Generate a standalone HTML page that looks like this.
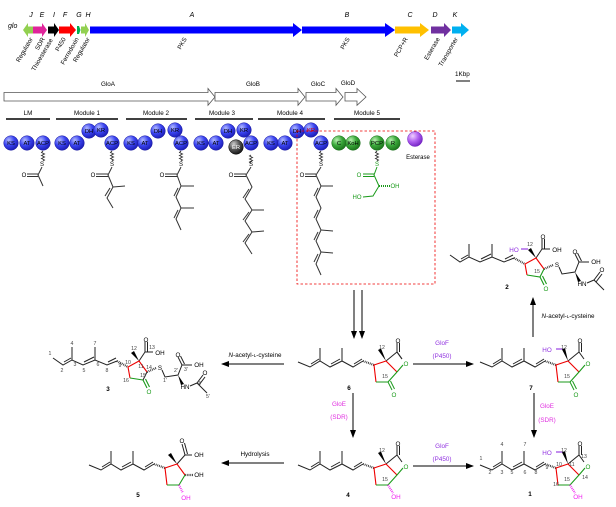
<!DOCTYPE html>
<html><head><meta charset="utf-8"><style>
html,body{margin:0;padding:0;background:#fff}
svg{display:block;font-family:"Liberation Sans",Arial,sans-serif}
</style></head><body>
<svg width="616" height="507" viewBox="0 0 616 507" xmlns="http://www.w3.org/2000/svg">
<defs>
<radialGradient id="gb" cx="0.35" cy="0.3" r="0.75"><stop offset="0" stop-color="#b0b8ff"/><stop offset="0.5" stop-color="#3a44f0"/><stop offset="1" stop-color="#1a1ab0"/></radialGradient>
<radialGradient id="gg" cx="0.35" cy="0.3" r="0.75"><stop offset="0" stop-color="#b8f0b0"/><stop offset="0.5" stop-color="#3aa83a"/><stop offset="1" stop-color="#1a701a"/></radialGradient>
<radialGradient id="gk" cx="0.35" cy="0.3" r="0.75"><stop offset="0" stop-color="#cccccc"/><stop offset="0.5" stop-color="#555"/><stop offset="1" stop-color="#111"/></radialGradient>
<radialGradient id="gp" cx="0.35" cy="0.3" r="0.75"><stop offset="0" stop-color="#f0d0ff"/><stop offset="0.5" stop-color="#b060f0"/><stop offset="1" stop-color="#7020c0"/></radialGradient>
<marker id="ah" markerWidth="8" markerHeight="6" refX="7" refY="3" orient="auto" markerUnits="userSpaceOnUse"><path d="M0,0 L8,3 L0,6 Z" fill="#000"/></marker>
</defs>

<!-- gene cluster -->
<text x="8" y="28" font-size="7" font-style="italic">glo</text>
<g stroke="none">
<polygon points="33,26.5 28,26.5 28,23 23,30 28,37 28,33.5 33,33.5" fill="#92d050"/>
<polygon points="33,26.5 42,26.5 42,23 47,30 42,37 42,33.5 33,33.5" fill="#e0249b"/>
<polygon points="48,26.5 54,26.5 54,23 59,30 54,37 54,33.5 48,33.5" fill="#000"/>
<polygon points="59,26.5 70,26.5 70,23 76,30 70,37 70,33.5 59,33.5" fill="#ff0000"/>
<polygon points="77,26 79,26 80.5,30 79,34 77,34" fill="#00b050"/>
<polygon points="81,26.5 85,26.5 85,23 89,30 85,37 85,33.5 81,33.5" fill="#92d050"/>
<polygon points="90,26.5 293,26.5 293,23 302,30 293,37 293,33.5 90,33.5" fill="#0000ff"/>
<polygon points="302,26.5 385,26.5 385,23 395,30 385,37 385,33.5 302,33.5" fill="#0000ff"/>
<polygon points="395,26.5 420,26.5 420,23 429,30 420,37 420,33.5 395,33.5" fill="#ffc000"/>
<polygon points="431,26.5 444,26.5 444,23 451,30 444,37 444,33.5 431,33.5" fill="#7030a0"/>
<polygon points="452,26.5 461,26.5 461,23 469,30 461,37 461,33.5 452,33.5" fill="#00b0f0"/>
</g>
<g font-size="7" font-style="italic" text-anchor="middle">
<text x="31" y="17">J</text><text x="42" y="17">E</text><text x="54" y="17">I</text><text x="65" y="17">F</text><text x="79" y="17">G</text><text x="88" y="17">H</text><text x="192" y="17">A</text><text x="347" y="17">B</text><text x="410" y="17">C</text><text x="435" y="17">D</text><text x="455" y="17">K</text>
</g>
<g font-size="6.3" text-anchor="end">
<text transform="translate(33,39) rotate(-60)">Regulator</text>
<text transform="translate(45,39) rotate(-60)">SDR</text>
<text transform="translate(53,40) rotate(-60)">Thioesterase</text>
<text transform="translate(66,39) rotate(-60)">P450</text>
<text transform="translate(79,39) rotate(-60)">Ferredoxin</text>
<text transform="translate(90,39) rotate(-60)">Regulator</text>
<text transform="translate(187,39) rotate(-60)">PKS</text>
<text transform="translate(350,39) rotate(-60)">PKS</text>
<text transform="translate(408,39) rotate(-60)">PCP+R</text>
<text transform="translate(440,39) rotate(-60)">Esterase</text>
<text transform="translate(458,39) rotate(-60)">Transporter</text>
</g>
<text x="455" y="76" font-size="6.3">1Kbp</text>
<line x1="456" y1="81" x2="470" y2="81" stroke="#000" stroke-width="1"/>

<!-- outline arrows -->
<g fill="#fff" stroke="#555" stroke-width="0.8">
<polygon points="4,92.5 208,92.5 208,88.5 215,97 208,105.3 208,101 4,101"/>
<polygon points="215,92.5 298,92.5 298,88.5 305,97 298,105.3 298,101 215,101"/>
<polygon points="306,92.5 336,92.5 336,88.5 343,97 336,105.3 336,101 306,101"/>
<polygon points="345,92.5 357,92.5 357,88.5 366,97 357,105.3 357,101 345,101"/>
</g>
<g font-size="6.3" text-anchor="middle">
<text x="108" y="86">GloA</text><text x="253" y="86">GloB</text><text x="318" y="86">GloC</text><text x="348" y="85">GloD</text>
</g>

<!-- modules -->
<g stroke="#000" stroke-width="1.5">
<line x1="6" y1="119" x2="50" y2="119"/><line x1="56" y1="119" x2="118" y2="119"/><line x1="126" y1="119" x2="187" y2="119"/><line x1="195" y1="119" x2="253" y2="119"/><line x1="258" y1="119" x2="325" y2="119"/><line x1="334" y1="119" x2="400" y2="119"/>
</g>
<g font-size="6.3" text-anchor="middle">
<text x="28" y="115">LM</text><text x="87" y="115">Module 1</text><text x="156" y="115">Module 2</text><text x="222" y="115">Module 3</text><text x="290" y="115">Module 4</text><text x="367" y="115">Module 5</text>
</g>

<!-- domain circles -->
<g stroke="#1a1aa0" stroke-width="0.5" fill="url(#gb)">
<circle cx="11" cy="143" r="7.3"/><circle cx="27" cy="143" r="7.3"/><circle cx="43" cy="143" r="7.3"/>
<circle cx="62" cy="143" r="7.3"/><circle cx="77" cy="143" r="7.3"/><circle cx="89" cy="131" r="7.3"/><circle cx="101" cy="130" r="7.3"/><circle cx="112" cy="143" r="7.3"/>
<circle cx="131" cy="143" r="7.3"/><circle cx="145" cy="143" r="7.3"/><circle cx="158" cy="131" r="7.3"/><circle cx="175" cy="130" r="7.3"/><circle cx="181" cy="143" r="7.3"/>
<circle cx="201" cy="143" r="7.3"/><circle cx="216" cy="143" r="7.3"/><circle cx="228" cy="131" r="7.3"/><circle cx="244" cy="130" r="7.3"/><circle cx="251" cy="143" r="7.3"/>
<circle cx="271" cy="143" r="7.3"/><circle cx="285" cy="143" r="7.3"/><circle cx="297" cy="131" r="7.3"/><circle cx="311" cy="130" r="7.3"/><circle cx="321" cy="143" r="7.3"/>
</g>
<circle cx="236" cy="147" r="7.3" fill="url(#gk)" stroke="#000" stroke-width="0.5"/>
<g stroke="#1a701a" stroke-width="0.5" fill="url(#gg)">
<circle cx="339" cy="143" r="7.3"/><circle cx="353" cy="143" r="7.3"/><circle cx="377" cy="143" r="7.3"/><circle cx="393" cy="143" r="7.3"/>
</g>
<circle cx="415" cy="139" r="7.5" fill="url(#gp)" stroke="#7020c0" stroke-width="0.5"/>
<g font-size="5.8" text-anchor="middle">
<text x="11" y="145">KS</text><text x="27" y="145">AT</text><text x="43" y="145">ACP</text>
<text x="62" y="145">KS</text><text x="77" y="145">AT</text><text x="89" y="133">DH</text><text x="101" y="132">KR</text><text x="112" y="145">ACP</text>
<text x="131" y="145">KS</text><text x="145" y="145">AT</text><text x="158" y="133">DH</text><text x="175" y="132">KR</text><text x="181" y="145">ACP</text>
<text x="201" y="145">KS</text><text x="216" y="145">AT</text><text x="228" y="133">DH</text><text x="244" y="132">KR</text><text x="251" y="145">ACP</text>
<text x="236" y="149" fill="#fff">ER</text>
<text x="271" y="145">KS</text><text x="285" y="145">AT</text><text x="297" y="133">DH</text><text x="311" y="132" fill="#c00">KR</text><text x="321" y="145">ACP</text>
<text x="339" y="145">C</text><text x="353" y="145">KoH</text><text x="377" y="145">PCP</text><text x="393" y="145">R</text>
</g>
<text x="418" y="159" font-size="6" text-anchor="middle">Esterase</text>
<rect x="297" y="131" width="138" height="153" fill="none" stroke="#e00" stroke-width="0.8" stroke-dasharray="2.5,2"/>

<!-- module chains -->
<g stroke="#333" stroke-width="0.9" fill="none">
<path d="M43,151 l-1.5,1.5 l3,1.5 l-3,1.5 l3,1.5 l-3,1.5 l3,1.5 l-1.5,1"/>
<path d="M112,151 l-1.5,1.5 l3,1.5 l-3,1.5 l3,1.5 l-3,1.5 l3,1.5 l-1.5,1"/>
<path d="M181,151 l-1.5,1.5 l3,1.5 l-3,1.5 l3,1.5 l-3,1.5 l3,1.5 l-1.5,1"/>
<path d="M251,155 l-1.5,1 l3,1.5 l-3,1.5 l3,1.5 l-3,1.5 l1.5,1"/>
<path d="M321,151 l-1.5,1.5 l3,1.5 l-3,1.5 l3,1.5 l-3,1.5 l3,1.5 l-1.5,1"/>
</g>
<g font-size="6" text-anchor="middle">
<text x="42" y="166">S</text><text x="112" y="166">S</text><text x="181" y="166">S</text><text x="251" y="166">S</text><text x="321" y="166">S</text>
<text x="24" y="177">O</text><text x="93" y="177">O</text><text x="162" y="177">O</text><text x="231" y="177">O</text><text x="302" y="177">O</text>
</g>
<g stroke="#333" stroke-width="1" fill="none">
<!-- LM -->
<polyline points="42,167 38,175 43,186"/><line x1="27" y1="174" x2="38" y2="174"/><line x1="27" y1="176.5" x2="38" y2="176.5"/>
<!-- M1 -->
<polyline points="112,167 108,175 113,187 107,198 113,208"/><line x1="113" y1="187" x2="125" y2="186"/><line x1="96" y1="174" x2="108" y2="174"/><line x1="96" y1="176.5" x2="108" y2="176.5"/><line x1="110" y1="188" x2="105" y2="196"/>
<!-- M2 -->
<polyline points="181,167 177,175 181,186 176,197 181,208 176,219 181,230"/><line x1="181" y1="186" x2="194" y2="186"/><line x1="181" y1="208" x2="194" y2="208"/><line x1="165" y1="174" x2="177" y2="174"/><line x1="165" y1="176.5" x2="177" y2="176.5"/><line x1="178" y1="188" x2="174" y2="196"/><line x1="178" y1="210" x2="174" y2="218"/>
<!-- M3 -->
<polyline points="251,167 246,175 252,187 245,199 252,210 245,221 252,232 245,243 252,254"/><line x1="252" y1="210" x2="264" y2="210"/><line x1="252" y1="232" x2="264" y2="231"/><line x1="234" y1="174" x2="246" y2="174"/><line x1="234" y1="176.5" x2="246" y2="176.5"/><line x1="249" y1="189" x2="243" y2="198"/><line x1="249" y1="212" x2="243" y2="220"/><line x1="249" y1="234" x2="243" y2="242"/>
<!-- M4 -->
<polyline points="321,167 316,175 321,186 316,197 321,208 316,219 321,230 316,241 321,252 316,264 321,275"/><line x1="321" y1="186" x2="333" y2="186"/><line x1="321" y1="230" x2="333" y2="231"/><line x1="321" y1="252" x2="333" y2="253"/><line x1="305" y1="174" x2="316" y2="174"/><line x1="305" y1="176.5" x2="316" y2="176.5"/><line x1="318" y1="188" x2="314" y2="196"/><line x1="318" y1="210" x2="314" y2="218"/><line x1="318" y1="232" x2="314" y2="240"/><line x1="318" y1="254" x2="314" y2="262"/>
</g>
<!-- PCP green chain -->
<path d="M377,151 l-1.5,1.5 l3,1.5 l-3,1.5 l3,1.5 l-3,1.5 l3,1.5 l-1.5,1" stroke="#333" stroke-width="0.9" fill="none"/>
<g stroke="#1a9a1a" stroke-width="1" fill="none">
<polyline points="377,167 374,175 379,186 373,196 363,197"/><line x1="363" y1="174" x2="374" y2="174"/><line x1="363" y1="176.5" x2="374" y2="176.5"/>
<line x1="379" y1="186" x2="390" y2="186" stroke-dasharray="1,1" stroke-width="2"/>
</g>
<g font-size="6" fill="#1a9a1a" text-anchor="middle"><text x="377" y="166">S</text><text x="359" y="177">O</text><text x="395" y="188">OH</text><text x="357" y="199">HO</text></g>

<!-- down arrows -->
<g stroke="#000" stroke-width="1"><line x1="354" y1="290" x2="354" y2="338" marker-end="url(#ah)"/><line x1="362" y1="290" x2="362" y2="338" marker-end="url(#ah)"/></g>

<!-- reaction arrows -->
<g stroke="#000" stroke-width="1">
<line x1="413" y1="364" x2="473" y2="364" marker-end="url(#ah)"/>
<line x1="413" y1="466" x2="473" y2="466" marker-end="url(#ah)"/>
<line x1="353" y1="393" x2="353" y2="437" marker-end="url(#ah)"/>
<line x1="534" y1="393" x2="534" y2="437" marker-end="url(#ah)"/>
<line x1="533" y1="337" x2="533" y2="298" marker-end="url(#ah)"/>
<line x1="284" y1="364" x2="222" y2="364" marker-end="url(#ah)"/>
<line x1="284" y1="463" x2="222" y2="463" marker-end="url(#ah)"/>
</g>
<g font-size="6.3" text-anchor="middle">
<text x="442" y="345" fill="#9030e0">GloF</text><text x="442" y="358" fill="#9030e0">(P450)</text>
<text x="442" y="448" fill="#9030e0">GloF</text><text x="442" y="461" fill="#9030e0">(P450)</text>
<text x="339" y="406" fill="#e030e0">GloE</text><text x="339" y="419" fill="#e030e0">(SDR)</text>
<text x="547" y="408" fill="#e030e0">GloE</text><text x="547" y="422" fill="#e030e0">(SDR)</text>
<text x="255" y="357"><tspan font-style="italic">N</tspan>-acetyl-<tspan font-size="4.5">L</tspan>-cysteine</text>
<text x="568" y="318"><tspan font-style="italic">N</tspan>-acetyl-<tspan font-size="4.5">L</tspan>-cysteine</text>
<text x="255" y="456">Hydrolysis</text>
</g>

<!-- compound cores: 6 (0,0), 7 (+182,0), 4 (0,+103), 1 (+182,+103) -->
<g id="c6">
<g stroke="#222" stroke-width="1" fill="none">
<polyline points="298,362 310,367 320,361 330,367 342,361 353,367 363,361"/>
<line x1="311" y1="364" x2="319" y2="359"/><line x1="331" y1="364" x2="340" y2="359"/><line x1="354" y1="364" x2="362" y2="359"/>
<line x1="320" y1="361" x2="320" y2="348"/><line x1="342" y1="361" x2="342" y2="348"/>
<line x1="363" y1="361" x2="374" y2="365" stroke-dasharray="0.8,1" stroke-width="2.2"/>
<line x1="386" y1="361" x2="397" y2="352"/><line x1="397" y1="352" x2="397" y2="343"/><line x1="399.5" y1="352" x2="399.5" y2="343"/>
</g>
<g stroke="#e00" stroke-width="1.1" fill="none"><polyline points="376,382 374,365 386,361 397,372"/></g>
<g stroke="#1a9a1a" stroke-width="1.1" fill="none"><polyline points="376,382 388,382 397,372"/><polyline points="397,372 403,365"/><line x1="397" y1="352" x2="402" y2="359" stroke="#222"/></g>
</g>
<g id="c6b" transform="translate(182,0)">
<g stroke="#222" stroke-width="1" fill="none">
<polyline points="298,362 310,367 320,361 330,367 342,361 353,367 363,361"/>
<line x1="311" y1="364" x2="319" y2="359"/><line x1="331" y1="364" x2="340" y2="359"/><line x1="354" y1="364" x2="362" y2="359"/>
<line x1="320" y1="361" x2="320" y2="348"/><line x1="342" y1="361" x2="342" y2="348"/>
<line x1="363" y1="361" x2="374" y2="365" stroke-dasharray="0.8,1" stroke-width="2.2"/>
<line x1="386" y1="361" x2="397" y2="352"/><line x1="397" y1="352" x2="397" y2="343"/><line x1="399.5" y1="352" x2="399.5" y2="343"/><line x1="397" y1="352" x2="402" y2="359"/>
</g>
<g stroke="#e00" stroke-width="1.1" fill="none"><polyline points="376,382 374,365 386,361 397,372"/></g>
<g stroke="#1a9a1a" stroke-width="1.1" fill="none"><polyline points="376,382 388,382 397,372 403,365"/></g>
</g>
<g transform="translate(0,103)">
<g stroke="#222" stroke-width="1" fill="none">
<polyline points="298,362 310,367 320,361 330,367 342,361 353,367 363,361"/>
<line x1="311" y1="364" x2="319" y2="359"/><line x1="331" y1="364" x2="340" y2="359"/><line x1="354" y1="364" x2="362" y2="359"/>
<line x1="320" y1="361" x2="320" y2="348"/><line x1="342" y1="361" x2="342" y2="348"/>
<line x1="363" y1="361" x2="374" y2="365" stroke-dasharray="0.8,1" stroke-width="2.2"/>
<line x1="386" y1="361" x2="397" y2="352"/><line x1="397" y1="352" x2="397" y2="343"/><line x1="399.5" y1="352" x2="399.5" y2="343"/><line x1="397" y1="352" x2="402" y2="359"/>
</g>
<g stroke="#e00" stroke-width="1.1" fill="none"><polyline points="376,382 374,365 386,361 397,372"/></g>
<g stroke="#1a9a1a" stroke-width="1.1" fill="none"><polyline points="376,382 388,382 397,372 403,365"/></g>
</g>
<g transform="translate(182,103)">
<g stroke="#222" stroke-width="1" fill="none">
<polyline points="298,362 310,367 320,361 330,367 342,361 353,367 363,361"/>
<line x1="311" y1="364" x2="319" y2="359"/><line x1="331" y1="364" x2="340" y2="359"/><line x1="354" y1="364" x2="362" y2="359"/>
<line x1="320" y1="361" x2="320" y2="348"/><line x1="342" y1="361" x2="342" y2="348"/>
<line x1="363" y1="361" x2="374" y2="365" stroke-dasharray="0.8,1" stroke-width="2.2"/>
<line x1="386" y1="361" x2="397" y2="352"/><line x1="397" y1="352" x2="397" y2="343"/><line x1="399.5" y1="352" x2="399.5" y2="343"/><line x1="397" y1="352" x2="402" y2="359"/>
</g>
<g stroke="#e00" stroke-width="1.1" fill="none"><polyline points="376,382 374,365 386,361 397,372"/></g>
<g stroke="#1a9a1a" stroke-width="1.1" fill="none"><polyline points="376,382 388,382 397,372 403,365"/></g>
</g>
<!-- methyl wedges (6,4) -->
<polygon points="386,361 378,350 381,348.5" fill="#000"/>
<polygon points="386,464 378,453 381,451.5" fill="#000"/>
<!-- CH2OH (7,1) -->
<g stroke="#9030e0" stroke-width="1.1"><line x1="556" y1="349" x2="563" y2="349"/><line x1="556" y1="452" x2="563" y2="452"/></g>
<polygon points="568,361 562,349.5 565,348" fill="#000"/>
<polygon points="568,464 562,452.5 565,451" fill="#000"/>
<!-- C=O (6,7) green -->
<g stroke="#1a9a1a" stroke-width="1"><line x1="388" y1="382" x2="392" y2="390"/><line x1="390.5" y1="381" x2="394.5" y2="389"/><line x1="570" y1="382" x2="574" y2="390"/><line x1="572.5" y1="381" x2="576.5" y2="389"/></g>
<!-- OH hashed (4,1) -->
<g stroke="#f020f0" stroke-width="2.2" stroke-dasharray="0.8,1"><line x1="388" y1="485" x2="393" y2="493"/><line x1="570" y1="485" x2="575" y2="493"/></g>
<g font-size="6.3" text-anchor="middle">
<text x="398" y="343">O</text><text x="580" y="343">O</text><text x="398" y="446">O</text><text x="580" y="446">O</text>
<text x="406" y="366" fill="#1a9a1a">O</text><text x="588" y="366" fill="#1a9a1a">O</text><text x="406" y="469" fill="#1a9a1a">O</text><text x="588" y="469" fill="#1a9a1a">O</text>
<text x="394" y="397" fill="#1a9a1a">O</text><text x="576" y="397" fill="#1a9a1a">O</text>
<text x="396" y="499" fill="#f020f0">OH</text><text x="578" y="499" fill="#f020f0">OH</text>
<text x="547" y="352" fill="#9030e0">HO</text><text x="547" y="455" fill="#9030e0">HO</text>
<text x="349" y="390" font-weight="bold">6</text><text x="531" y="390" font-weight="bold">7</text><text x="348" y="497" font-weight="bold">4</text><text x="530" y="496" font-weight="bold">1</text>
</g>
<g font-size="5.2" fill="#444" text-anchor="middle">
<text x="382" y="349">12</text><text x="385" y="378">15</text><text x="564" y="349">12</text><text x="567" y="378">15</text><text x="382" y="452">12</text><text x="385" y="481">15</text>
<text x="564" y="452">12</text><text x="567" y="481">15</text><text x="584" y="458">13</text><text x="572" y="466">11</text><text x="559" y="466">10</text><text x="585" y="479">14</text><text x="556" y="486">16</text>
<text x="481" y="460">1</text><text x="490" y="474">2</text><text x="502" y="474">3</text><text x="502" y="446">4</text><text x="512" y="474">5</text><text x="525" y="474">6</text><text x="525" y="446">7</text><text x="536" y="474">8</text><text x="547" y="469">9</text>
</g>

<!-- compound 3 -->
<g stroke="#222" stroke-width="1" fill="none">
<polyline points="53,358 63,365 72,360 83,365 95,360 107,365 117,361"/>
<line x1="64" y1="362" x2="71" y2="358"/><line x1="84" y1="362" x2="94" y2="357"/><line x1="108" y1="362" x2="116" y2="358"/>
<line x1="72" y1="360" x2="72" y2="347"/><line x1="95" y1="360" x2="95" y2="347"/>
<line x1="117" y1="361" x2="128" y2="367" stroke-dasharray="0.8,1" stroke-width="2.2"/>
<line x1="139" y1="361" x2="145" y2="352"/><line x1="145" y1="352" x2="145" y2="342"/><line x1="147.5" y1="352" x2="147.5" y2="342"/><line x1="145" y1="352" x2="153" y2="352"/>
<line x1="147" y1="372" x2="156" y2="368" stroke-dasharray="0.8,1" stroke-width="2.2"/>
<polyline points="162,370 165,377 178,375 182,365 192,365"/><line x1="182" y1="365" x2="178" y2="357"/><line x1="184.5" y1="364" x2="180.5" y2="356"/>
<polyline points="190,386 197,383 207,393"/><line x1="197" y1="383" x2="203" y2="375"/><line x1="199" y1="385" x2="205" y2="377"/>
</g>
<polygon points="178,375 181,385 184,384" fill="#000"/>
<polygon points="139,361 131,353 134,351" fill="#000"/>
<g stroke="#e00" stroke-width="1.1" fill="none"><polyline points="130,378 128,367 139,361 147,372"/></g>
<g stroke="#1a9a1a" stroke-width="1.1" fill="none"><polyline points="130,378 143,380"/><line x1="143" y1="380" x2="147" y2="388"/><line x1="145.5" y1="379" x2="149.5" y2="387"/></g>
<line x1="143" y1="380" x2="147" y2="372" stroke="#222" stroke-width="1"/>
<g font-size="6.3" text-anchor="middle">
<text x="146" y="342">O</text><text x="160" y="355">OH</text><text x="160" y="370">S</text><text x="178" y="357">O</text><text x="199" y="367">OH</text><text x="185" y="389">HN</text><text x="205" y="375">O</text><text x="149" y="394" fill="#1a9a1a">O</text>
<text x="108" y="391" font-weight="bold">3</text>
</g>
<g font-size="5.2" fill="#444" text-anchor="middle">
<text x="50" y="355">1</text><text x="62" y="372">2</text><text x="75" y="366">3</text><text x="72" y="345">4</text><text x="84" y="372">5</text><text x="98" y="366">6</text><text x="95" y="345">7</text><text x="107" y="372">8</text><text x="120" y="367">9</text><text x="128" y="364">10</text><text x="141" y="368">11</text><text x="134" y="350">12</text><text x="152" y="349">13</text><text x="149" y="369">14</text><text x="143" y="377">15</text><text x="126" y="382">16</text>
<text x="165" y="382">1'</text><text x="176" y="372">2'</text><text x="186" y="371">3'</text><text x="200" y="385">4'</text><text x="208" y="398">5'</text>
</g>

<!-- compound 2 (shift of 3 by 397,-103) -->
<g transform="translate(397,-103)">
<g stroke="#222" stroke-width="1" fill="none">
<polyline points="53,358 63,365 72,360 83,365 95,360 107,365 117,361"/>
<line x1="64" y1="362" x2="71" y2="358"/><line x1="84" y1="362" x2="94" y2="357"/><line x1="108" y1="362" x2="116" y2="358"/>
<line x1="72" y1="360" x2="72" y2="347"/><line x1="95" y1="360" x2="95" y2="347"/>
<line x1="117" y1="361" x2="128" y2="367" stroke-dasharray="0.8,1" stroke-width="2.2"/>
<line x1="139" y1="361" x2="145" y2="352"/><line x1="145" y1="352" x2="145" y2="342"/><line x1="147.5" y1="352" x2="147.5" y2="342"/><line x1="145" y1="352" x2="153" y2="352"/>
<line x1="147" y1="372" x2="156" y2="368" stroke-dasharray="0.8,1" stroke-width="2.2"/>
<polyline points="162,370 165,377 178,375 182,365 192,365"/><line x1="182" y1="365" x2="178" y2="357"/><line x1="184.5" y1="364" x2="180.5" y2="356"/>
<polyline points="190,386 197,383 207,393"/><line x1="197" y1="383" x2="203" y2="375"/><line x1="199" y1="385" x2="205" y2="377"/>
</g>
<polygon points="178,375 181,385 184,384" fill="#000"/>
<polygon points="139,361 131,353 134,351" fill="#000"/>
<line x1="131" y1="352" x2="124" y2="352" stroke="#9030e0" stroke-width="1.1"/>
<g stroke="#e00" stroke-width="1.1" fill="none"><polyline points="130,378 128,367 139,361 147,372"/></g>
<g stroke="#1a9a1a" stroke-width="1.1" fill="none"><polyline points="130,378 143,380 147,372"/><line x1="143" y1="380" x2="147" y2="388"/><line x1="145.5" y1="379" x2="149.5" y2="387"/></g>
<g font-size="6.3" text-anchor="middle">
<text x="146" y="342">O</text><text x="160" y="355">OH</text><text x="160" y="370">S</text><text x="178" y="357">O</text><text x="199" y="367">OH</text><text x="185" y="389">HN</text><text x="205" y="375">O</text><text x="149" y="394" fill="#1a9a1a">O</text>
<text x="117" y="355" fill="#9030e0">HO</text>
<text x="110" y="392" font-weight="bold">2</text>
</g>
<g font-size="5.2" fill="#444" text-anchor="middle"><text x="133" y="349">12</text><text x="140" y="376">15</text></g>
</g>

<!-- compound 5 -->
<g stroke="#222" stroke-width="1" fill="none">
<polyline points="89,465 101,470 111,464 121,470 133,464 144,470 154,464"/>
<line x1="102" y1="467" x2="110" y2="462"/><line x1="122" y1="467" x2="131" y2="462"/><line x1="145" y1="467" x2="153" y2="462"/>
<line x1="111" y1="464" x2="111" y2="451"/><line x1="133" y1="464" x2="133" y2="451"/>
<line x1="154" y1="464" x2="165" y2="468" stroke-dasharray="0.8,1" stroke-width="2.2"/>
<line x1="177" y1="464" x2="185" y2="455"/><line x1="185" y1="455" x2="182" y2="444"/><line x1="187.5" y1="454" x2="184.5" y2="443"/><line x1="185" y1="455" x2="192" y2="455"/>
<line x1="185" y1="475" x2="193" y2="475" stroke-dasharray="0.8,1" stroke-width="2.2"/>
</g>
<polygon points="177,464 168,455 171,453" fill="#000"/>
<g stroke="#e00" stroke-width="1.1" fill="none"><polyline points="167,485 165,468 177,464 185,475"/></g>
<g stroke="#1a9a1a" stroke-width="1.1" fill="none"><polyline points="167,485 179,485 185,475"/></g>
<line x1="179" y1="485" x2="183" y2="493" stroke="#f020f0" stroke-width="2.2" stroke-dasharray="0.8,1"/>
<g font-size="6.3" text-anchor="middle">
<text x="182" y="443">O</text><text x="199" y="457">OH</text><text x="199" y="477">OH</text><text x="186" y="500" fill="#f020f0">OH</text>
<text x="138" y="497" font-weight="bold">5</text>
</g>
</svg>
</body></html>
